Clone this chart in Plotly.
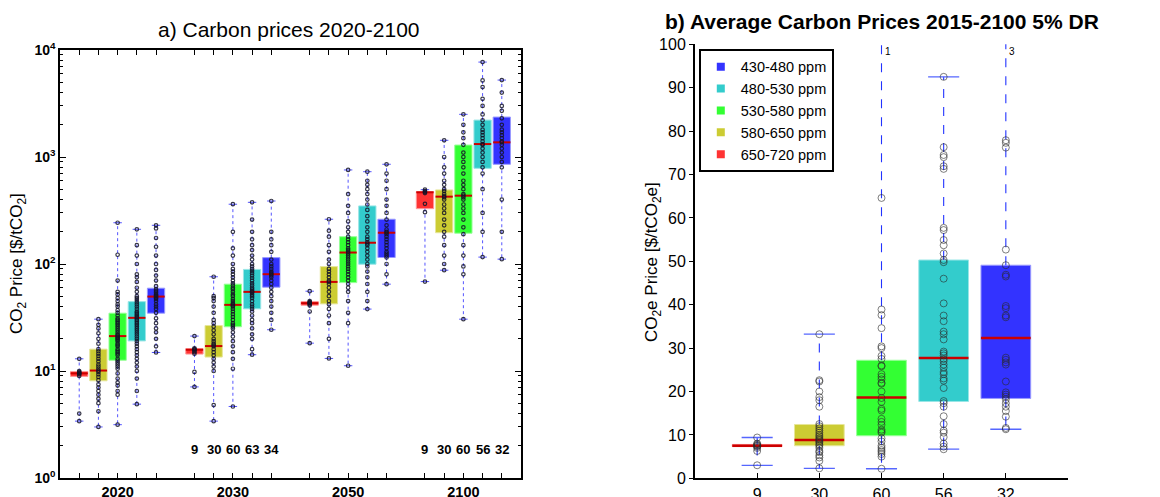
import plotly.graph_objects as go
import numpy as np

# ---------------- data ----------------
years = ['2020', '2030', '2050', '2100']
ppm_ranges = ['650-720 ppm', '580-650 ppm', '530-580 ppm', '480-530 ppm', '430-480 ppm']
colors = ['#FF3333', '#CCCC33', '#33FF33', '#33CCCC', '#3333FF']
edge_colors = ['#FF9999', '#E6E699', '#99FF99', '#99E6E6', '#9999FF']

# panel a box statistics (per year, boxes ordered red, yellow, green, cyan, blue)
a_q1 = [[8.9, 8.1, 12.6, 19.1, 34.7],
        [14.4, 13.5, 25.9, 38.1, 60.7],
        [41.2, 42.4, 67, 99.5, 115],
        [329, 196, 194, 784, 855]]
a_med = [[9.5, 10.1, 21.2, 31.4, 49.6],
         [15.8, 17.1, 41.5, 54.9, 80.3],
         [43, 68, 128, 158, 196],
         [468, 426, 435, 1321, 1371]]
a_q3 = [[9.9, 16.0, 34.7, 44.5, 59.4],
        [16.2, 26.6, 64.8, 89, 114.7],
        [44.5, 94.6, 180, 349, 262],
        [474, 492, 1294, 2213, 2362]]
a_lo = [[3.4, 3.0, 3.15, 4.9, 14.9],
        [7.1, 3.4, 4.66, 14.2, 24.3],
        [18.2, 13.1, 11.2, 37.9, 64.8],
        [68.5, 87.5, 30.5, 116, 111]]
a_hi = [[13.0, 30.5, 243, 211, 230],
        [21.2, 76, 362, 377, 388],
        [55.7, 262, 757, 729, 855],
        [495, 1432, 2505, 7710, 5236]]

pts_2020 = [
    [3.4, 4.0, 9.0, 9.3, 9.5, 9.6, 9.8, 10.0, 13.0],
    [3.0, 4.2, 5.0, 5.5, 6.0, 6.5, 7.0, 7.5, 8.2, 8.8, 9.3, 9.8, 10.1, 10.5, 11.0, 11.5,
     12.3, 13.0, 13.8, 14.5, 15.3, 16.0, 18.0, 20.0, 22.5, 25.0, 27.0, 30.5],
    [3.15, 6.0, 6.5, 7.3, 7.8, 8.5, 9.5, 10.5, 11, 11.5, 12, 12.5, 13, 14, 14.5, 15, 15.5,
     16, 17, 17.5, 18, 19, 19.5, 20, 20.5, 21, 21.5, 22, 23, 24, 25, 26, 27, 28, 29, 30,
     31, 33, 35, 37, 40, 42, 45, 48, 52, 55, 70, 122, 243],
    [4.9, 6.5, 8.5, 10, 11, 12, 13, 14, 15, 16, 17, 18, 19, 20, 21, 22, 23, 24, 25, 26, 27,
     28, 29, 30, 31, 32, 33, 34, 35, 36, 38, 40, 42, 44, 46, 48, 50, 55, 60, 68, 75, 80,
     100, 120, 150, 211],
    [14.9, 17, 20, 23, 25, 28, 31, 35, 38, 40, 42, 45, 47, 48, 49, 50, 51, 52, 54, 56, 58,
     62, 70, 78, 88, 100, 120, 145, 175, 215, 230],
]
pts_2030 = [
    [7.1, 9.8, 14.5, 15, 15.5, 15.8, 16, 16.3, 21.2],
    [3.4, 4.8, 10, 11, 12, 13, 14, 15, 16, 17, 17.5, 18, 19, 20, 22, 24, 26, 28, 30, 35,
     40, 45, 48, 50, 76],
    [4.66, 10.5, 13, 15, 17, 19, 21, 23, 25, 26, 27, 28, 30, 32, 34, 36, 38, 40, 41, 42, 43,
     45, 47, 50, 52, 55, 58, 60, 63, 66, 70, 75, 80, 85, 90, 100, 120, 140, 200, 362],
    [14.2, 16, 20, 22, 25, 28, 30, 33, 36, 38, 40, 42, 45, 48, 50, 52, 54, 55, 56, 58, 60,
     63, 66, 70, 74, 78, 82, 86, 90, 95, 100, 110, 120, 135, 150, 170, 200, 260, 377],
    [24.3, 30, 35, 40, 45, 50, 55, 60, 65, 70, 75, 78, 80, 82, 85, 90, 95, 100, 110, 130,
     150, 170, 200, 388],
]
pts_2050 = [
    [18.2, 36, 41, 42, 43, 43.5, 44, 45, 55.7],
    [13.1, 20, 28, 33, 38, 42, 45, 50, 55, 60, 65, 68, 70, 75, 80, 85, 90, 100, 110, 130,
     150, 180, 205, 262],
    [11.2, 28, 35, 45, 55, 60, 65, 70, 75, 80, 85, 90, 95, 100, 105, 110, 115, 120, 125,
     130, 135, 140, 150, 160, 170, 180, 200, 220, 250, 300, 350, 450, 757],
    [37.9, 45, 55, 65, 75, 85, 95, 100, 110, 120, 130, 140, 150, 155, 160, 170, 180, 200,
     220, 250, 280, 320, 360, 400, 450, 500, 550, 600, 729],
    [64.8, 80, 100, 115, 120, 125, 130, 140, 150, 160, 170, 180, 190, 196, 200, 210, 230,
     260, 300, 350, 400, 500, 600, 700, 855],
]
pts_2100 = [
    [68.5, 305, 365, 460, 470, 480, 495],
    [87.5, 100, 120, 150, 180, 200, 230, 260, 300, 330, 360, 400, 420, 430, 450, 480, 500,
     550, 600, 700, 800, 1000, 1432],
    [30.5, 80, 95, 120, 150, 190, 220, 260, 300, 330, 360, 400, 420, 435, 450, 500, 550,
     600, 700, 800, 900, 1000, 1100, 1300, 1500, 1700, 2000, 2505],
    [116, 200, 300, 500, 700, 800, 900, 1000, 1100, 1200, 1300, 1320, 1400, 1500, 1600,
     1700, 1800, 2000, 2200, 2500, 3000, 3500, 4500, 5200, 7710],
    [111, 200, 400, 800, 900, 1000, 1100, 1200, 1300, 1370, 1400, 1500, 1600, 1700, 1800,
     2000, 2300, 2700, 3000, 4000, 5236],
]
a_points = [pts_2020, pts_2030, pts_2050, pts_2100]
a_counts_2030 = ['9', '30', '60', '63', '34']
a_counts_2100 = ['9', '30', '60', '56', '32']

# panel b
b_labels = ['9', '30', '60', '56', '32']
b_q1 = [7.3, 7.5, 9.8, 17.7, 18.4]
b_med = [7.5, 8.8, 18.6, 27.7, 32.3]
b_q3 = [7.8, 12.4, 27.2, 50.3, 49.1]
b_lo = [3.0, 2.3, 2.2, 6.7, 11.3]
b_hi = [9.4, 33.2, 150, 92.5, 150]
b_above = [0, 0, 1, 0, 3]
b_points = [
    [3.0, 6.3, 7.0, 7.3, 7.5, 7.6, 7.8, 8.0, 9.4],
    [2.3, 4.0, 4.8, 5.3, 6.0, 6.3, 7.0, 7.5, 7.8, 8.2, 8.5, 8.8, 9.0, 9.3, 9.7, 10.0, 10.5,
     11.0, 11.5, 12.0, 12.5, 16.5, 18.0, 18.7, 20.0, 22.3, 22.6, 33.2],
    [2.2, 5.0, 5.6, 6.1, 6.5, 7.0, 7.5, 8.5, 9.2, 10.5, 10.8, 11.2, 12.3, 13.0, 13.7, 15.6,
     16.0, 17.6, 18.5, 20.0, 21.8, 22.0, 22.8, 23.4, 24.0, 25.8, 26.0, 27.5, 28.2, 30.0,
     30.4, 34.6, 37.6, 38.9, 64.6],
    [6.7, 7.3, 8.0, 9.5, 10.5, 11.0, 12.5, 14.3, 16.5, 17.3, 17.8, 20.8, 22.5, 23.0, 24.0,
     24.5, 25.5, 26.2, 27.0, 27.5, 28.3, 28.8, 29.2, 32.0, 33.2, 33.8, 36.2, 37.5, 40.3,
     46.0, 49.8, 50.3, 51.8, 53.7, 54.9, 57.2, 57.7, 71.3, 71.9, 74.0, 74.5, 76.3, 92.5],
    [11.3, 11.6, 14.2, 15.5, 16.5, 17.3, 18.2, 18.8, 19.3, 19.8, 22.3, 26.2, 26.7, 27.3,
     27.8, 37.1, 37.5, 39.2, 39.7, 46.5, 46.9, 49.1, 52.7, 76.2, 77.3, 77.9],
]

FONT = 'Arial, Liberation Sans, sans-serif'
fig = go.Figure()

# ---------------- panel a ----------------
pos_a, q1a, q3a, meda, loa, hia, cola, edga = [], [], [], [], [], [], [], []
for g in range(4):
    for k in range(5):
        pos_a.append(1 + 6 * g + k)
        q1a.append(a_q1[g][k]); q3a.append(a_q3[g][k]); meda.append(a_med[g][k])
        loa.append(a_lo[g][k]); hia.append(a_hi[g][k])
        cola.append(colors[k]); edga.append(edge_colors[k])

fig.add_trace(go.Bar(x=pos_a, y=[h - l for h, l in zip(q3a, q1a)], base=q1a, width=0.9,
                     marker=dict(color=cola, line=dict(color=edga, width=1)),
                     showlegend=False, hoverinfo='skip', xaxis='x', yaxis='y'))

wx, wy, cx, cy, mx, my = [], [], [], [], [], []
for p, l, q1, m, q3, h in zip(pos_a, loa, q1a, meda, q3a, hia):
    wx += [p, p, None, p, p, None]
    wy += [q3, h, None, q1, l, None]
    cx += [p - 0.22, p + 0.22, None, p - 0.22, p + 0.22, None]
    cy += [h, h, None, l, l, None]
    mx += [p - 0.45, p + 0.45, None]
    my += [m, m, None]
fig.add_trace(go.Scatter(x=wx, y=wy, mode='lines', line=dict(color='#5555FF', width=1, dash='dot'),
                         showlegend=False, hoverinfo='skip', xaxis='x', yaxis='y'))
fig.add_trace(go.Scatter(x=cx, y=cy, mode='lines', line=dict(color='#5555FF', width=1),
                         showlegend=False, hoverinfo='skip', xaxis='x', yaxis='y'))
fig.add_trace(go.Scatter(x=mx, y=my, mode='lines', line=dict(color='#CC0000', width=2),
                         showlegend=False, hoverinfo='skip', xaxis='x', yaxis='y'))
px, py = [], []
for g in range(4):
    for k in range(5):
        for v in a_points[g][k]:
            px.append(1 + 6 * g + k); py.append(v)
fig.add_trace(go.Scatter(x=px, y=py, mode='markers',
                         marker=dict(symbol='circle-open', size=3.5, color='rgba(20,20,40,0.85)', line=dict(width=1.2)),
                         showlegend=False, hoverinfo='skip', xaxis='x', yaxis='y'))

# ---------------- panel b ----------------
pos_b = [1, 2, 3, 4, 5]
fig.add_trace(go.Bar(x=pos_b, y=[h - l for h, l in zip(b_q3, b_q1)], base=b_q1, width=0.8,
                     marker=dict(color=colors, line=dict(color=edge_colors, width=1)),
                     showlegend=False, hoverinfo='skip', xaxis='x2', yaxis='y2'))
wx, wy, cx, cy, mx, my = [], [], [], [], [], []
for p, l, q1, m, q3, h in zip(pos_b, b_lo, b_q1, b_med, b_q3, b_hi):
    wx += [p, p, None, p, p, None]
    wy += [q3, h, None, q1, l, None]
    cx += [p - 0.25, p + 0.25, None, p - 0.25, p + 0.25, None]
    cy += [h, h, None, l, l, None]
    mx += [p - 0.4, p + 0.4, None]
    my += [m, m, None]
fig.add_trace(go.Scatter(x=wx, y=wy, mode='lines', line=dict(color='#2233FF', width=1.1, dash='dash'),
                         showlegend=False, hoverinfo='skip', xaxis='x2', yaxis='y2'))
fig.add_trace(go.Scatter(x=cx, y=cy, mode='lines', line=dict(color='#5566FF', width=1.3),
                         showlegend=False, hoverinfo='skip', xaxis='x2', yaxis='y2'))
fig.add_trace(go.Scatter(x=mx, y=my, mode='lines', line=dict(color='#CC0000', width=2.5),
                         showlegend=False, hoverinfo='skip', xaxis='x2', yaxis='y2'))
px, py = [], []
for k in range(5):
    for v in b_points[k]:
        px.append(pos_b[k]); py.append(v)
fig.add_trace(go.Scatter(x=px, y=py, mode='markers',
                         marker=dict(symbol='circle-open', size=7, color='rgba(40,40,40,0.75)', line=dict(width=0.8)),
                         showlegend=False, hoverinfo='skip', xaxis='x2', yaxis='y2'))

# legend entries (blue first)
for k in [4, 3, 2, 1, 0]:
    fig.add_trace(go.Scatter(x=[None], y=[None], mode='markers', name=ppm_ranges[k],
                             marker=dict(symbol='square', size=8, color=colors[k]),
                             xaxis='x2', yaxis='y2'))

# ---------------- annotations ----------------
ann = []
count_y = np.log10(1.85)
for k in range(5):
    ann.append(dict(x=7 + k, y=count_y, xref='x', yref='y', text='<b>%s</b>' % a_counts_2030[k],
                    showarrow=False, font=dict(size=13, family=FONT, color='black')))
    ann.append(dict(x=19 + k, y=count_y, xref='x', yref='y', text='<b>%s</b>' % a_counts_2100[k],
                    showarrow=False, font=dict(size=13, family=FONT, color='black')))
for k in range(5):
    if b_above[k] > 0:
        ann.append(dict(x=pos_b[k] + 0.02, y=98.3, xref='x2', yref='y2', text=str(b_above[k]),
                        xanchor='left', yanchor='middle', showarrow=False,
                        font=dict(size=10, family=FONT, color='black')))
ann.append(dict(x=289 / 1160, y=(497 - 30) / 497, xref='paper', yref='paper',
                xanchor='center', yanchor='middle',
                text='a) Carbon prices 2020-2100', showarrow=False,
                font=dict(size=21, family=FONT, color='black')))
ann.append(dict(x=882 / 1160, y=(497 - 22) / 497, xref='paper', yref='paper',
                xanchor='center', yanchor='middle',
                text='<b>b) Average Carbon Prices 2015-2100 5% DR</b>', showarrow=False,
                font=dict(size=21, family=FONT, color='black')))
ann.append(dict(x=18 / 1160, y=(497 - 264) / 497, xref='paper', yref='paper', textangle=-90,
                xanchor='center', yanchor='middle',
                text='CO<sub>2</sub> Price [$/tCO<sub>2</sub>]', showarrow=False,
                font=dict(size=17, family=FONT, color='black')))
ann.append(dict(x=653 / 1160, y=(497 - 262) / 497, xref='paper', yref='paper', textangle=-90,
                xanchor='center', yanchor='middle',
                text='CO<sub>2</sub>e Price [$/tCO<sub>2</sub>e]', showarrow=False,
                font=dict(size=17, family=FONT, color='black')))

tickvals_a = pos_a
ticktext_a = []
for g in range(4):
    for k in range(5):
        ticktext_a.append('<b>%s</b>' % years[g] if k == 2 else '')

minor_vals = [m * 10 ** e for e in range(4) for m in range(2, 10)]

fig.update_layout(
    width=1160, height=497, margin=dict(l=0, r=0, t=0, b=0, pad=0, autoexpand=False),
    paper_bgcolor='white', plot_bgcolor='white', barmode='overlay',
    font=dict(family=FONT, color='black'),
    xaxis=dict(domain=[60 / 1160, 521 / 1160], range=[0, 24], tickvals=tickvals_a, ticktext=ticktext_a,
               ticks='inside', ticklen=5, tickcolor='black', mirror='allticks', showline=True,
               linecolor='black', linewidth=1.5, showgrid=False, zeroline=False, automargin=False,
               tickfont=dict(size=14.5, family=FONT)),
    yaxis=dict(domain=[19 / 497, 447 / 497], type='log', range=[0, 4],
               tickvals=[1, 10, 100, 1000, 10000],
               ticktext=['<b>10<sup>0</sup></b>', '<b>10<sup>1</sup></b>', '<b>10<sup>2</sup></b>',
                         '<b>10<sup>3</sup></b>', '<b>10<sup>4</sup></b>'],
               ticks='inside', ticklen=6, tickcolor='black', mirror='allticks', showline=True,
               linecolor='black', linewidth=1.5, showgrid=False, zeroline=False, automargin=False,
               tickfont=dict(size=14, family=FONT),
               minor=dict(tickvals=minor_vals, ticks='inside', ticklen=3, tickcolor='black', showgrid=False)),
    xaxis2=dict(domain=[695 / 1160, 1068 / 1160], range=[0, 6], tickvals=pos_b, ticktext=b_labels,
                ticks='inside', ticklen=5, tickcolor='black', showline=True, linecolor='black',
                linewidth=2, showgrid=False, zeroline=False, anchor='y2', automargin=False,
                tickfont=dict(size=16, family=FONT)),
    yaxis2=dict(domain=[(497 - 478.3) / 497, (497 - 44.3) / 497], range=[0, 100], dtick=10,
                ticks='outside', ticklen=4, tickcolor='black', showline=True, linecolor='black',
                linewidth=2, showgrid=False, zeroline=False, anchor='x2', automargin=False,
                tickfont=dict(size=16, family=FONT)),
    legend=dict(x=699 / 1160, y=(497 - 49) / 497, xanchor='left', yanchor='top',
                bordercolor='black', borderwidth=1.8, bgcolor='white',
                font=dict(size=14.5, family=FONT), tracegroupgap=0, itemwidth=30),
    annotations=ann,
)

fig.write_html('out.html')
